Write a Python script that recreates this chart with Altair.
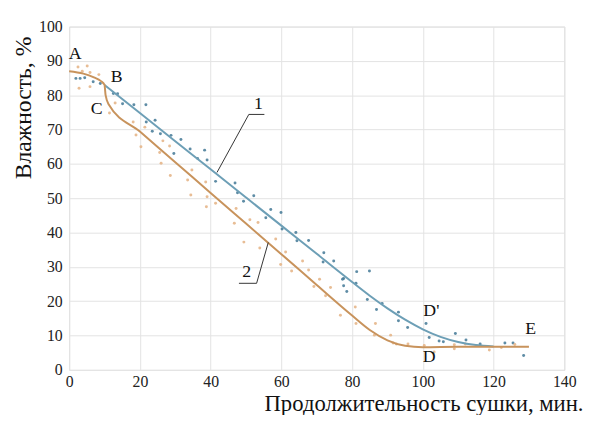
import altair as alt
import pandas as pd

# Curve 1 (blue)
c1_x = [10, 20, 30, 40, 50, 60, 70, 80, 85, 90, 95, 100, 105, 110, 115, 120]
c1_y = [83, 74.8, 66.6, 58.4, 50.2, 42.0, 33.8, 25.6, 21.6, 17.9, 14.6, 11.8, 9.6, 8.1, 7.2, 6.8]

# Curve 2 (orange)
c2_x = [0, 4, 7, 9, 10, 10.3, 11.2, 20, 30, 40, 50, 60, 70, 80, 85, 90, 95, 100, 110, 120, 130]
c2_y = [87, 86.3, 85.2, 84.1, 83, 80, 77.3, 69.4, 60.5, 51.5, 42.6, 33.7, 24.7, 15.8, 11.6, 8.6, 7.0, 6.6, 6.7, 6.7, 6.7]

# Experimental points (blue)
p1_x = [1.9, 3.1, 4.4, 6.8, 8.8, 12.5, 13.7, 15.1, 18.3, 21.7, 21.8, 23.5, 24.3, 25.8, 28.8, 31.6, 29.6, 34.2,
        38.3, 39.0, 36.3, 41.4, 46.9, 47.6, 49.3, 52.2, 55.6, 57.0, 59.9, 60.2, 64.1, 64.4, 67.7, 72.0, 71.8,
        74.8, 77.6, 77.6, 81.3, 84.9, 77.3, 81.1, 78.5, 84.3, 88.5, 86.9, 93.1, 93.1, 95.7, 100.9, 101.8,
        104.6, 109.2, 112.2, 105.8, 116.2, 123.2, 125.5, 128.5]
p1_y = [84.9, 84.9, 85.1, 83.9, 83.4, 80.5, 80.4, 77.5, 77.2, 77.2, 72.2, 69.5, 72.7, 68.8, 68.3, 67.1, 63.0, 64.3,
        64.0, 61.1, 61.6, 54.9, 54.4, 51.6, 49.1, 50.7, 44.3, 46.7, 45.8, 41.0, 40.0, 37.6, 37.7, 34.1, 31.4,
        31.7, 26.6, 24.5, 28.6, 28.8, 26.4, 25.2, 22.8, 20.5, 19.3, 17.6, 16.8, 14.3, 12.3, 13.5, 9.4,
        8.4, 10.6, 8.7, 8.2, 7.5, 7.8, 7.8, 4.2]

# Experimental points (orange)
p2_x = [2.5, 3.7, 5.1, 5.9, 8.4, 2.8, 5.9, 13.0, 11.4, 18.1, 18.9, 20.3, 21.4, 26.5, 28.4, 25.6, 26.0, 28.6,
        33.5, 34.7, 34.4, 38.6, 39.0, 38.8, 41.4, 47.2, 46.7, 51.1, 53.4, 49.4, 53.9, 58.4, 61.2, 59.8, 62.9,
        67.7, 66.0, 70.8, 69.2, 73.9, 72.5, 76.7, 80.9, 81.1, 86.6, 86.3, 90.9, 91.6, 92.5, 95.8, 100.4,
        103.2, 108.9, 108.9, 112.0, 118.8, 122.2, 126.0]
p2_y = [88.2, 87.0, 88.5, 86.6, 86.0, 82.0, 82.5, 77.7, 74.8, 72.2, 68.4, 65.0, 70.7, 66.7, 65.2, 63.3, 60.2, 56.6,
        55.3, 58.2, 50.9, 54.7, 50.4, 47.5, 48.5, 47.0, 42.7, 43.7, 42.9, 37.2, 35.5, 38.1, 34.3, 30.7, 28.8,
        29.1, 31.7, 26.4, 24.3, 24.0, 21.6, 15.9, 18.3, 13.5, 13.5, 10.1, 10.1, 7.8, 7.5, 7.5, 7.1,
        5.2, 7.3, 6.1, 7.5, 5.8, 6.5, 7.4]

# Point labels
lbl_text = ["A", "B", "C", "D'", "D", "E", "1", "2"]
lbl_x = [1.7, 13.4, 7.8, 102.4, 101.8, 130.5, 53.5, 50.2]
lbl_y = [92.0, 85.3, 75.9, 17.0, 3.6, 11.8, 77.5, 28.5]

# Leader lines for curve numbers
lead1_x = [41.8, 50.8, 55.2]
lead1_y = [57.5, 74.4, 74.4]
lead2_x = [48.0, 53.0, 56.3]
lead2_y = [25.2, 25.2, 37.1]

x_ticks = [0, 20, 40, 60, 80, 100, 120, 140]
y_ticks = [0, 10, 20, 30, 40, 50, 60, 70, 80, 90, 100]

BLUE_LINE = "#6d9fb6"
ORANGE_LINE = "#c8935c"
BLUE_PT = "#4d7f9b"
ORANGE_PT = "#e6b68a"
FONT = "Liberation Serif"

xs = alt.Scale(domain=[0, 140], nice=False)
ys = alt.Scale(domain=[0, 100], nice=False)

c1 = pd.DataFrame({"x": c1_x, "y": c1_y})
c2 = pd.DataFrame({"x": c2_x, "y": c2_y})
p1 = pd.DataFrame({"x": p1_x, "y": p1_y})
p2 = pd.DataFrame({"x": p2_x, "y": p2_y})
lbl = pd.DataFrame({"t": lbl_text, "x": lbl_x, "y": lbl_y})
l1 = pd.DataFrame({"x": lead1_x, "y": lead1_y, "o": [0, 1, 2]})
l2 = pd.DataFrame({"x": lead2_x, "y": lead2_y, "o": [0, 1, 2]})

x_axis = alt.Axis(values=x_ticks, grid=True, gridColor="#e3e3e3", domain=False, ticks=False,
                  labelOverlap=False, labelFlush=False,
                  labelFont=FONT, labelFontSize=16, labelColor="#222", labelPadding=4,
                  title="Продолжительность сушки, мин.", titleFont=FONT, titleFontSize=23,
                  titleFontWeight="normal", titleColor="#111", titleAlign="right", titleAnchor="end",
                  titleX=521, titleY=41, titleBaseline="alphabetic")
y_axis = alt.Axis(values=y_ticks, grid=True, gridColor="#e3e3e3", domain=False, ticks=False,
                  labelOverlap=False, labelFlush=False,
                  labelFont=FONT, labelFontSize=16, labelColor="#222", labelPadding=7,
                  title="Влажность, %", titleFont=FONT, titleFontSize=24, titleFontWeight="normal",
                  titleColor="#111", titleAngle=-90, titleAlign="center", titleX=-34, titleY=82,
                  titleBaseline="bottom")

X = alt.X("x:Q", scale=xs, axis=x_axis)
Y = alt.Y("y:Q", scale=ys, axis=y_axis)

pts1 = alt.Chart(p1).mark_circle(size=9, color=BLUE_PT, opacity=0.9).encode(x=X, y=Y)
pts2 = alt.Chart(p2).mark_circle(size=9, color=ORANGE_PT, opacity=0.9).encode(x=X, y=Y)
line1 = alt.Chart(c1).mark_line(color=BLUE_LINE, strokeWidth=2, interpolate="monotone").encode(x=X, y=Y)
line2 = alt.Chart(c2).mark_line(color=ORANGE_LINE, strokeWidth=2, interpolate="monotone").encode(x=X, y=Y)
lead1 = alt.Chart(l1).mark_line(color="#333", strokeWidth=1).encode(x=X, y=Y, order="o:Q")
lead2 = alt.Chart(l2).mark_line(color="#333", strokeWidth=1).encode(x=X, y=Y, order="o:Q")
labels = alt.Chart(lbl).mark_text(font=FONT, fontSize=18, color="#111").encode(x=X, y=Y, text="t:N")

chart = alt.layer(pts1, pts2, line1, line2, lead1, lead2, labels).properties(
    width=502, height=348,
    autosize=alt.AutoSizeParams(type="none"),
    padding={"left": 62, "top": 16, "right": 23, "bottom": 43},
).configure_view(stroke=None).configure(background="white", font=FONT)

chart.save("out.html", embed_options={"renderer": "svg", "actions": False})
